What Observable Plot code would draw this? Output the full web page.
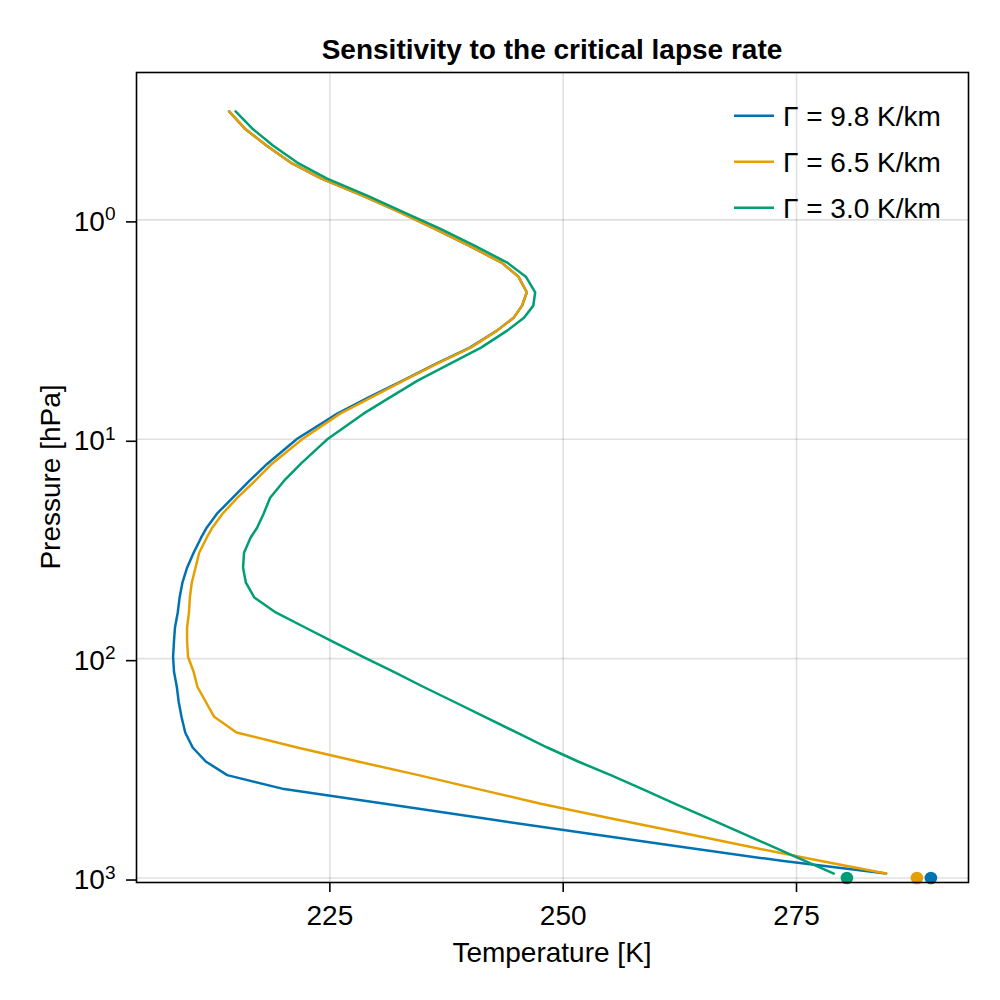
<!DOCTYPE html>
<html><head><meta charset="utf-8">
<script src="https://cdn.jsdelivr.net/npm/d3@7"></script>
<script src="https://cdn.jsdelivr.net/npm/@observablehq/plot@0.6"></script>
<style>
body{margin:0;background:#fff}
#chart{width:1000px;height:1000px}
</style>
</head><body><div id="chart"></div>
<script>
// Pressure levels [hPa]
const pressure = [0.320, 0.384, 0.458, 0.548, 0.648, 0.775, 0.926, 1.096, 1.31, 1.566,
  1.814, 2.138, 2.459, 2.79, 3.197, 3.822, 4.522, 5.405, 6.461, 7.642,
  9.94, 12.92, 15.45, 18.46, 21.84, 25.3, 28.1, 32.89, 38.5, 45.08,
  52.6, 61.55, 72.3, 82.85, 98.0, 114.7, 134.3, 157.2, 184.1, 217.0,
  254.1, 294.3, 339.6, 393.2, 458.8, 537.0, 622.2, 720.6, 834.8, 953.9];
// Temperatures [K] for each critical lapse rate
const tempGamma98 = [214.2, 215.9, 218.2, 220.8, 224.1, 228.5, 232.6, 236.2, 239.9, 243.4,
  245.2, 246.1, 245.6, 244.7, 242.9, 240.0, 236.4, 232.8, 229.1, 225.8,
  221.5, 218.3, 216.4, 214.6, 212.9, 211.8, 211.2, 210.4, 209.7, 209.2,
  208.9, 208.7, 208.4, 208.3, 208.2, 208.3, 208.6, 208.8, 209.1, 209.5,
  210.3, 211.7, 214.0, 220.1, 230.9, 241.8, 252.1, 262.6, 273.4, 284.6];
const tempGamma65 = [214.2, 215.9, 218.2, 220.8, 224.1, 228.5, 232.6, 236.2, 239.9, 243.4,
  245.2, 246.1, 245.6, 244.7, 242.9, 240.1, 236.5, 232.9, 229.4, 226.1,
  222.1, 218.8, 217.0, 215.1, 213.5, 212.4, 211.8, 211.0, 210.6, 210.2,
  210.0, 209.9, 209.7, 209.7, 209.8, 210.4, 210.8, 211.7, 212.6, 215.0,
  221.5, 228.0, 234.5, 240.9, 247.6, 255.3, 262.7, 270.0, 277.5, 284.6];
const tempGamma30 = [214.9, 216.7, 218.9, 221.5, 224.7, 229.0, 233.0, 236.8, 240.5, 244.0,
  246.0, 247.0, 246.8, 245.8, 244.0, 241.2, 237.9, 234.4, 231.4, 228.6,
  224.8, 221.9, 220.1, 218.6, 217.9, 217.2, 216.5, 215.8, 215.7, 216.0,
  216.9, 219.2, 222.4, 225.1, 228.5, 231.8, 235.0, 238.3, 241.6, 245.0,
  248.3, 251.6, 255.1, 258.5, 262.0, 265.7, 269.1, 272.5, 275.9, 279.0];
const seriesNames = ["Γ = 9.8 K/km", "Γ = 6.5 K/km", "Γ = 3.0 K/km"];
const seriesColors = ["#0072B2", "#E69F00", "#009E73"];
const surfaceTemps = [289.4, 287.9, 280.4];
const surfacePressure = 1000;
const xTicks = [225, 250, 275];
const yTicks = [1, 10, 100, 1000];
const titleText = "Sensitivity to the critical lapse rate";
const xLabelText = "Temperature [K]";
const yLabelText = "Pressure [hPa]";

const profiles = [];
[tempGamma98, tempGamma65, tempGamma30].forEach((temps, s) =>
  temps.forEach((t, i) => profiles.push({series: seriesNames[s], T: t, p: pressure[i]})));
const surface = surfaceTemps.map((t, s) => ({series: seriesNames[s], T: t, p: surfacePressure}));

const FONT = "'Liberation Sans', Arial, Helvetica, sans-serif";
const FS = 28;

const svg = Plot.plot({
  width: 1000, height: 1000,
  marginLeft: 136, marginRight: 32, marginTop: 72, marginBottom: 118,
  style: {fontFamily: FONT, fontSize: FS + "px", background: "#fff", color: "#000", overflow: "visible"},
  x: {domain: [204.28, 293.43]},
  y: {type: "log", domain: [0.2129, 1048], reverse: true},
  color: {domain: seriesNames, range: seriesColors},
  marks: [
    Plot.gridX(xTicks, {stroke: "#000", strokeOpacity: 0.12, strokeWidth: 1.6}),
    Plot.gridY(yTicks, {stroke: "#000", strokeOpacity: 0.12, strokeWidth: 1.6}),
    Plot.line(profiles, {x: "T", y: "p", z: "series", stroke: "series", strokeWidth: 2.5, strokeLinejoin: "round"}),
    Plot.dot(surface, {x: "T", y: "p", fill: "series", r: 6.3}),
    Plot.frame({stroke: "#000", strokeWidth: 1.6}),
    Plot.axisX(xTicks, {tickSize: 10, tickPadding: 12.4, strokeWidth: 1.6, label: null, fontSize: FS, tickFormat: d => String(d)}),
    Plot.axisY(yTicks, {tickSize: 10, tickPadding: 11, strokeWidth: 1.6, label: null, fontSize: FS, dy: 2,
      tickFormat: d => "10^" + Math.round(Math.log10(d))})
  ]
});
document.getElementById("chart").appendChild(svg);

const s = d3.select(svg);
// superscript exponents on y tick labels
s.selectAll('g[aria-label="y-axis tick label"] text').each(function() {
  const el = d3.select(this);
  const parts = el.text().split("^");
  if (parts.length === 2) {
    el.text(null);
    el.append("tspan").text(parts[0]);
    el.append("tspan").attr("dy", -10.5).attr("font-size", (FS * 0.68) + "px").text(parts[1]);
  }
});

const ann = s.append("g").attr("font-family", FONT).attr("fill", "#000");
ann.append("text").attr("x", 552).attr("y", 58.5).attr("text-anchor", "middle")
  .attr("font-size", FS).attr("font-weight", "bold").text(titleText);
ann.append("text").attr("x", 552).attr("y", 962).attr("text-anchor", "middle")
  .attr("font-size", FS).text(xLabelText);
ann.append("text").attr("transform", "translate(60,477) rotate(-90)").attr("text-anchor", "middle")
  .attr("font-size", FS).text(yLabelText);

const leg = s.append("g").attr("font-family", FONT);
seriesNames.forEach((name, i) => {
  const cy = 115.7 + i * 46;
  leg.append("line").attr("x1", 734).attr("x2", 774).attr("y1", cy).attr("y2", cy)
    .attr("stroke", seriesColors[i]).attr("stroke-width", 2.5);
  leg.append("text").attr("x", 783).attr("y", cy + 10).attr("text-anchor", "start")
    .attr("font-size", FS).attr("fill", "#000").text(name);
});
</script>
</body></html>
